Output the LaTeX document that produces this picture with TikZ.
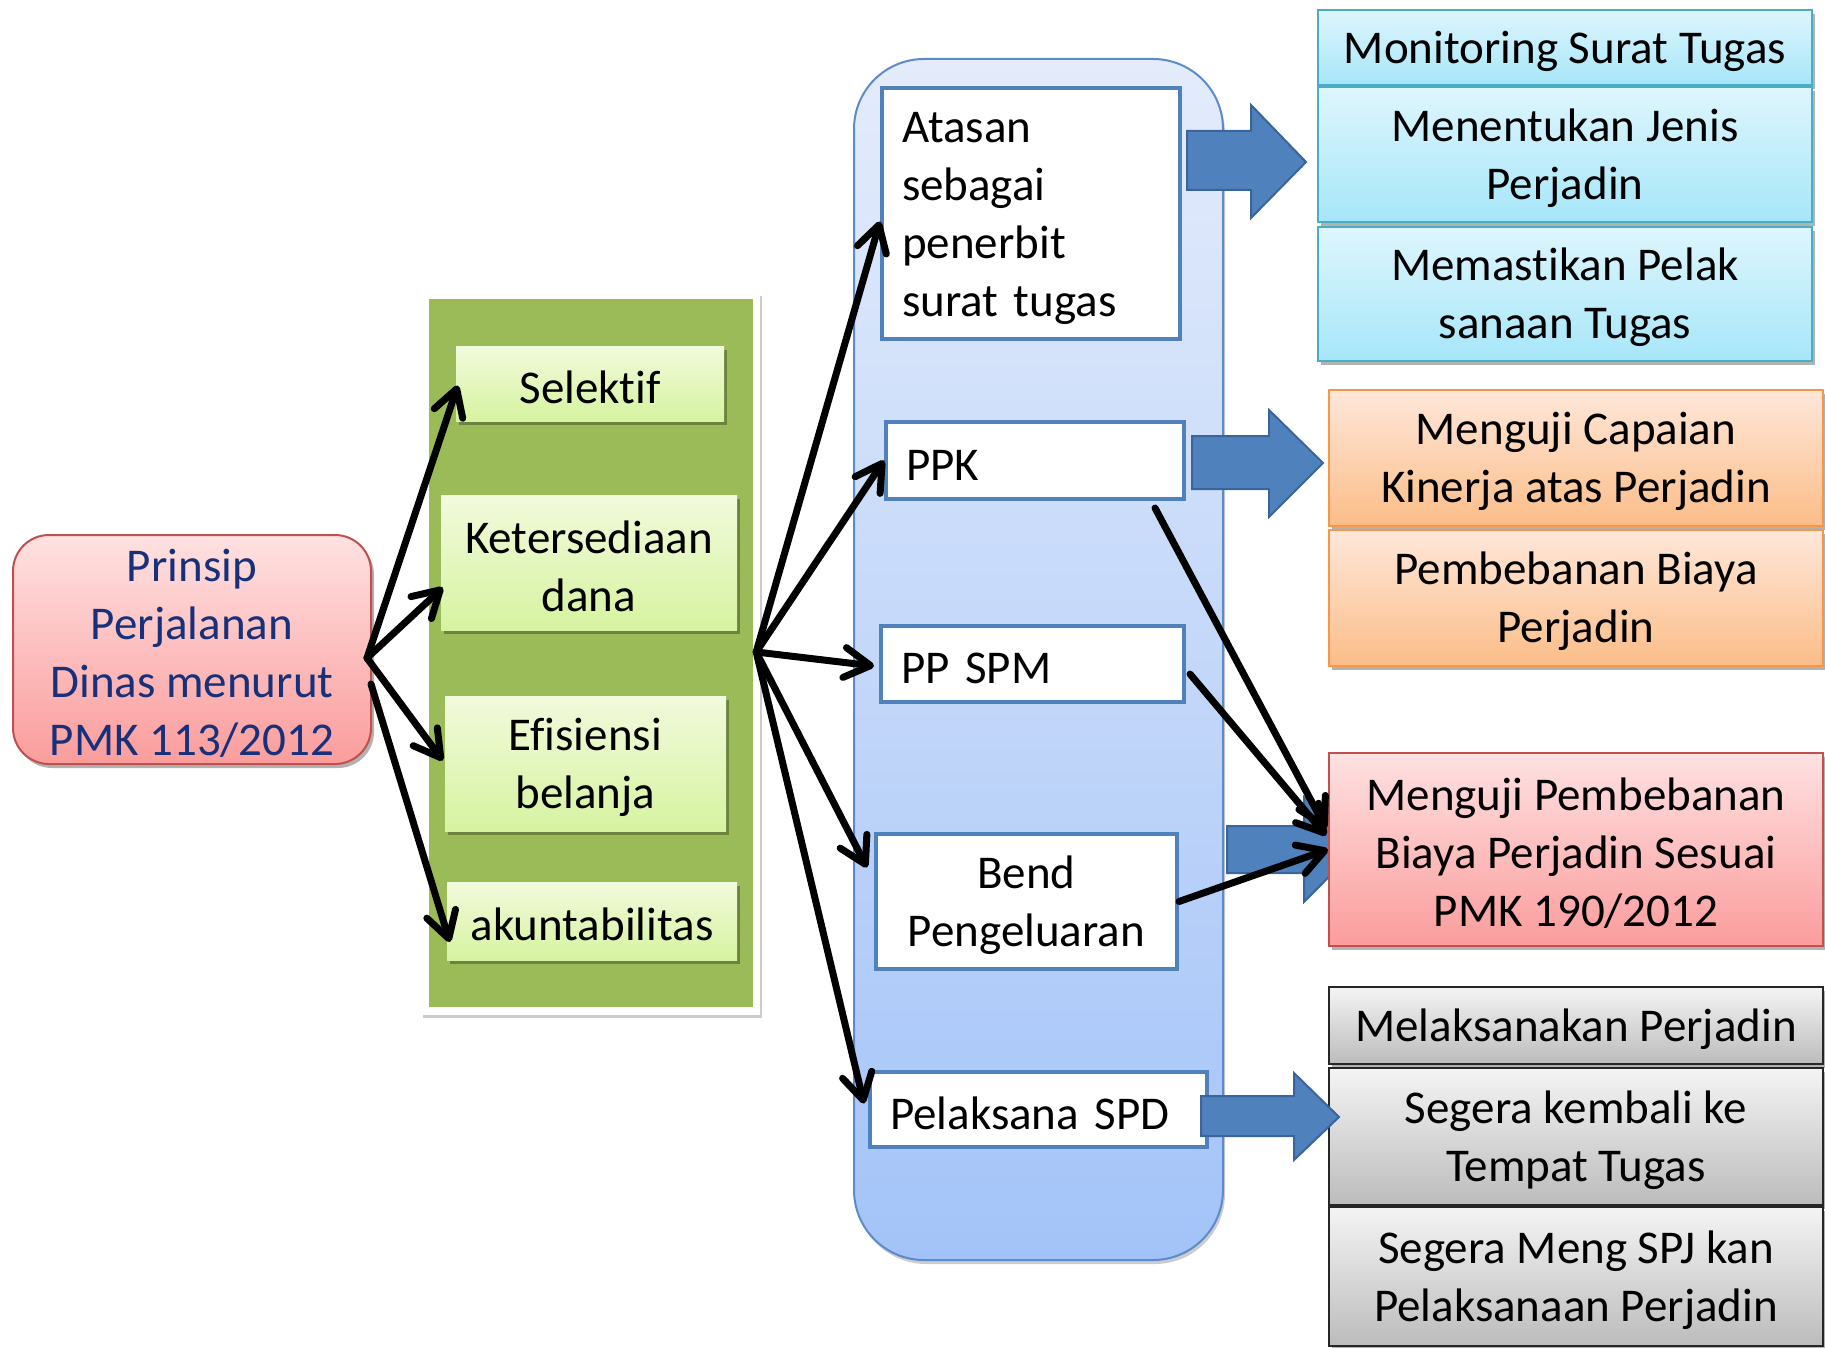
\documentclass[tikz,border=0pt]{standalone}
\usepackage{fontspec}
\setmainfont{Carlito}[Ligatures=NoCommon]
\usetikzlibrary{arrows.meta,shadows,calc}
\newcommand{\fl}{\rule{0pt}{40pt}}
\definecolor{navy}{HTML}{17307A}
\definecolor{redTop}{HTML}{FFE1E1}
\definecolor{redBot}{HTML}{FB9C9C}
\definecolor{redLine}{HTML}{C0504D}
\definecolor{grPanel}{HTML}{9BBB59}
\definecolor{grTop}{HTML}{F2FADC}
\definecolor{grBot}{HTML}{D6F3A0}
\definecolor{blTop}{HTML}{E4ECFB}
\definecolor{blBot}{HTML}{A3C3F8}
\definecolor{blLine}{HTML}{5B8BCB}
\definecolor{boxLine}{HTML}{4F81BD}
\definecolor{arrFill}{HTML}{4F81BD}
\definecolor{arrLine}{HTML}{3A659A}
\definecolor{cyTop}{HTML}{DEF6FD}
\definecolor{cyBot}{HTML}{A6E6F9}
\definecolor{cyLine}{HTML}{4BACC6}
\definecolor{orTop}{HTML}{FFE7D9}
\definecolor{orBot}{HTML}{FBBD88}
\definecolor{orLine}{HTML}{F79646}
\definecolor{gyTop}{HTML}{F4F4F4}
\definecolor{gyBot}{HTML}{BCBCBC}
\begin{document}
\begin{tikzpicture}[x=1pt,y=-1pt,
  base/.style={font=\fontsize{47}{58}\selectfont, align=center, inner sep=0pt},
  shd/.style={drop shadow={shadow xshift=3pt, shadow yshift=-4pt, opacity=0.3, fill=black}},
  wbox/.style={base, draw=boxLine, line width=4, fill=white},
  lbox/.style={wbox, align=left, inner xsep=20pt},
  gbox/.style={base, top color=grTop, bottom color=grBot, shd},
  cybox/.style={base, draw=cyLine, line width=2, top color=cyTop, bottom color=cyBot, shd, minimum width=494, minimum height=#1},
  orbox/.style={base, draw=orLine, line width=2, top color=orTop, bottom color=orBot, shd, minimum width=494, minimum height=#1},
  rdbox/.style={base, draw=redLine, line width=2, top color=redTop, bottom color=redBot, shd, minimum width=494, minimum height=#1},
  gybox/.style={base, draw=black!85, line width=2, top color=gyTop, bottom color=gyBot, shd, minimum width=494, minimum height=#1},
  blockarr/.style={fill=arrFill, draw=arrLine, line width=2},
  blk/.style={line width=7, line cap=round, -{Straight Barb[length=26pt, width=30pt, round]}}
]
\useasboundingbox (0,0) rectangle (1825,1348);

% left: principle box
\node[base, draw=redLine, line width=2, top color=redTop, bottom color=redBot,
      rounded corners=36, minimum width=358, minimum height=229, text=navy, shd]
  (prinsip) at (192,649.5) {\fl Prinsip\\Perjalanan\\Dinas menurut\\PMK 113/2012};

% green panel
\node[fill=white, minimum width=339, minimum height=722, inner sep=0pt,
      drop shadow={shadow xshift=2pt, shadow yshift=-3pt, opacity=0.2, fill=black}]
  (frame) at (590.5,654) {};
\node[fill=grPanel, minimum width=324, minimum height=708, inner sep=0pt]
  (green) at (591,653) {};
\node[gbox, minimum width=268, minimum height=75] (selektif) at (590,383.5) {\fl Selektif};
\node[gbox, minimum width=296, minimum height=135] (keter) at (589,562.5) {\fl Ketersediaan\\dana};
\node[gbox, minimum width=281, minimum height=135] (efis) at (585.5,763.5) {\fl Efisiensi\\belanja};
\node[gbox, minimum width=290, minimum height=78] (akun) at (592,921) {\fl akuntabilitas};

% blue panel
\node[draw=blLine, line width=2, top color=blTop, bottom color=blBot, rounded corners=70,
      minimum width=369, minimum height=1201, inner sep=0pt,
      drop shadow={shadow xshift=2pt, shadow yshift=-4pt, opacity=0.2, fill=black}]
  (panel) at (1038.5,659.5) {};
\node[lbox, text width=258, minimum width=298, minimum height=251] (atasan) at (1031,213.5)
  {\fl Atasan\\sebagai\\penerbit\\surat tugas};
\node[lbox, text width=258, minimum width=298, minimum height=77] (ppk) at (1035,460.5) {\fl PPK};
\node[lbox, text width=263, minimum width=303, minimum height=76] (spm) at (1032.5,664) {\fl PP SPM};
\node[wbox, minimum width=301, minimum height=135] (bend) at (1026.5,901.5) {\fl Bend\\Pengeluaran};
\node[lbox, text width=297, minimum width=337, minimum height=75] (pel) at (1038.5,1109.5) {\fl Pelaksana SPD};

% block arrows (behind the right boxes)
\draw[blockarr] (1187,131) -- (1251,131) -- (1251,105) -- (1306,162) -- (1251,218) -- (1251,190) -- (1187,190) -- cycle;
\draw[blockarr] (1192,436) -- (1269,436) -- (1269,410) -- (1323,463) -- (1269,517) -- (1269,489) -- (1192,489) -- cycle;
\draw[blockarr] (1227,826) -- (1304,826) -- (1304,797) -- (1356,849.5) -- (1304,902) -- (1304,873) -- (1227,873) -- cycle;

% right boxes
\node[cybox=75] (mon) at (1565,47.5) {\fl Monitoring Surat Tugas};
\node[cybox=135] (jenis) at (1565,154.5) {\fl Menentukan Jenis\\Perjadin};
\node[cybox=134] (mem) at (1565,294) {\fl Memastikan Pelak\\sanaan Tugas};
\node[orbox=136] (capai) at (1576,458) {\fl Menguji Capaian\\Kinerja atas Perjadin};
\node[orbox=136] (beban) at (1576,598) {\fl Pembebanan Biaya\\Perjadin};
\node[rdbox=193] (red) at (1576,849.5) {\fl Menguji Pembebanan\\Biaya Perjadin Sesuai\\PMK 190/2012};
\node[gybox=77] (melak) at (1576,1025.5) {\fl Melaksanakan Perjadin};
\node[gybox=137] (kembali) at (1576,1136.5) {\fl Segera kembali ke\\Tempat Tugas};
\node[gybox=139] (spj) at (1576,1276.5) {\fl Segera Meng SPJ kan\\Pelaksanaan Perjadin};

% block arrow over the grey box
\draw[blockarr] (1201,1096) -- (1294,1096) -- (1294,1073) -- (1339,1117) -- (1294,1160) -- (1294,1136) -- (1201,1136) -- cycle;

% black arrows from principle box
\coordinate (p0) at (367,658);
\coordinate (p1) at (371,684);
\draw[blk] (p0) -- ($(selektif.west)+(2,2)$);
\draw[blk] (p0) -- ($(keter.west)+(2,25)$);
\draw[blk] (p0) -- ($(efis.west)+(-2,-3)$);
\draw[blk] (p1) -- ($(akun.west)+(3,21)$);

% black arrows from green panel
\coordinate (g0) at ($(green.east)+(3,-1)$);
\draw[blk] (g0) -- ($(atasan.west)+(0,8)$);
\draw[blk] (g0) -- (ppk.west);
\draw[blk] (g0) -- ($(spm.west)+(-5,2)$);
\draw[blk] (g0) -- ($(bend.west)+(-7,-34)$);
\draw[blk] (g0) -- ($(pel.west)+(-4,-6)$);

% black arrows to red box
\draw[blk] ($(ppk.south east)+(-31,7)$) -- ($(red.west)+(-2,-21)$);
\draw[blk] ($(spm.east)+(4,10)$) -- ($(red.west)+(-2,-14)$);
\draw[blk] (bend.east) -- ($(red.west)+(0,0)$);
\end{tikzpicture}
\end{document}
